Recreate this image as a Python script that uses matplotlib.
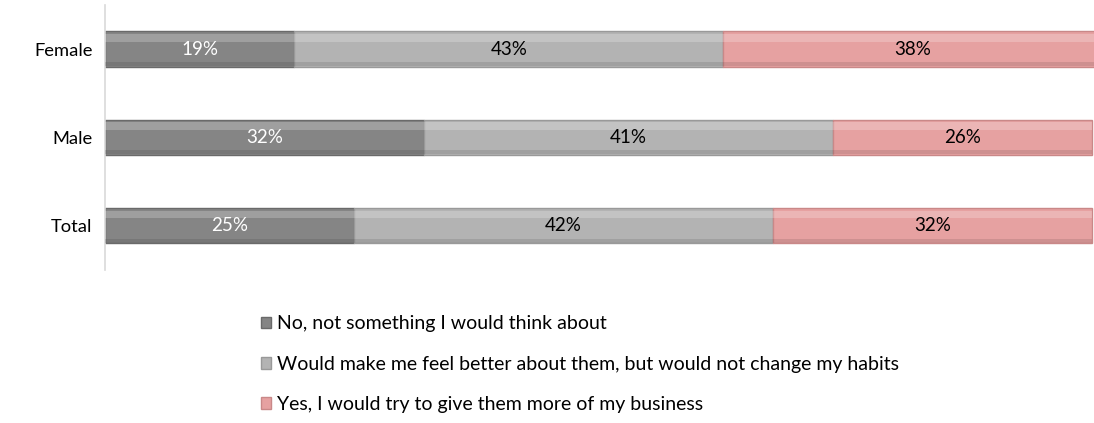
import matplotlib
matplotlib.use("Agg")
import matplotlib.pyplot as plt
import numpy as np

categories = ["Total", "Male", "Female"]
series_names = [
    "No, not something I would think about",
    "Would make me feel better about them, but would not change my habits",
    "Yes, I would try to give them more of my business",
]
no_vals = [25, 32, 19]
feel_vals = [42, 41, 43]
yes_vals = [32, 26, 38]

colors = ["#858585", "#b3b3b3", "#e6a1a1"]
edges = ["#6a6a6a", "#999999", "#c98888"]
label_colors = ["white", "black", "black"]

plt.rcParams["font.family"] = ["Lato", "DejaVu Sans"]

fig = plt.figure(figsize=(10.94, 4.23), dpi=100)
ax = fig.add_axes([105 / 1094, 1 - 270 / 423, 989 / 1094, 265 / 423])

y = np.arange(len(categories))
h = 0.4
left = np.zeros(len(categories))
handles = []
for vals, name, c, ec, tc in zip([no_vals, feel_vals, yes_vals], series_names,
                                 colors, edges, label_colors):
    vals = np.array(vals, dtype=float)
    bars = ax.barh(y, vals, height=h, left=left, color=c, edgecolor=ec,
                   linewidth=1.0, label=name, zorder=2)
    handles.append(bars)
    # bevel: light band along the top, darker band along the bottom
    ax.barh(y + h * 0.32, vals, height=h * 0.22, left=left, color="white",
            alpha=0.22, linewidth=0, zorder=3)
    ax.barh(y - h * 0.42, vals, height=h * 0.12, left=left, color="black",
            alpha=0.10, linewidth=0, zorder=3)
    for yi, l, v in zip(y, left, vals):
        ax.text(l + v / 2, yi, f"{int(v)}%", ha="center", va="center",
                color=tc, fontsize=13.5, zorder=4)
    left += vals

ax.set_xlim(0, 99.2)
ax.set_ylim(-0.5, 2.5)
ax.set_yticks(y)
ax.set_yticklabels(categories, fontsize=13.2)
ax.tick_params(axis="y", length=0, pad=9)
ax.set_xticks([])
for side in ["top", "right", "bottom"]:
    ax.spines[side].set_visible(False)
ax.spines["left"].set_color("#d9d9d9")
ax.spines["left"].set_linewidth(1.2)

fig.legend(handles=handles, labels=series_names, loc="upper left",
           bbox_to_anchor=(243 / 1094, 1 - 298 / 423), frameon=False,
           fontsize=14, handlelength=0.55, handleheight=0.55, handletextpad=0.3,
           labelspacing=1.2)

fig.savefig("out.png", dpi=100)
